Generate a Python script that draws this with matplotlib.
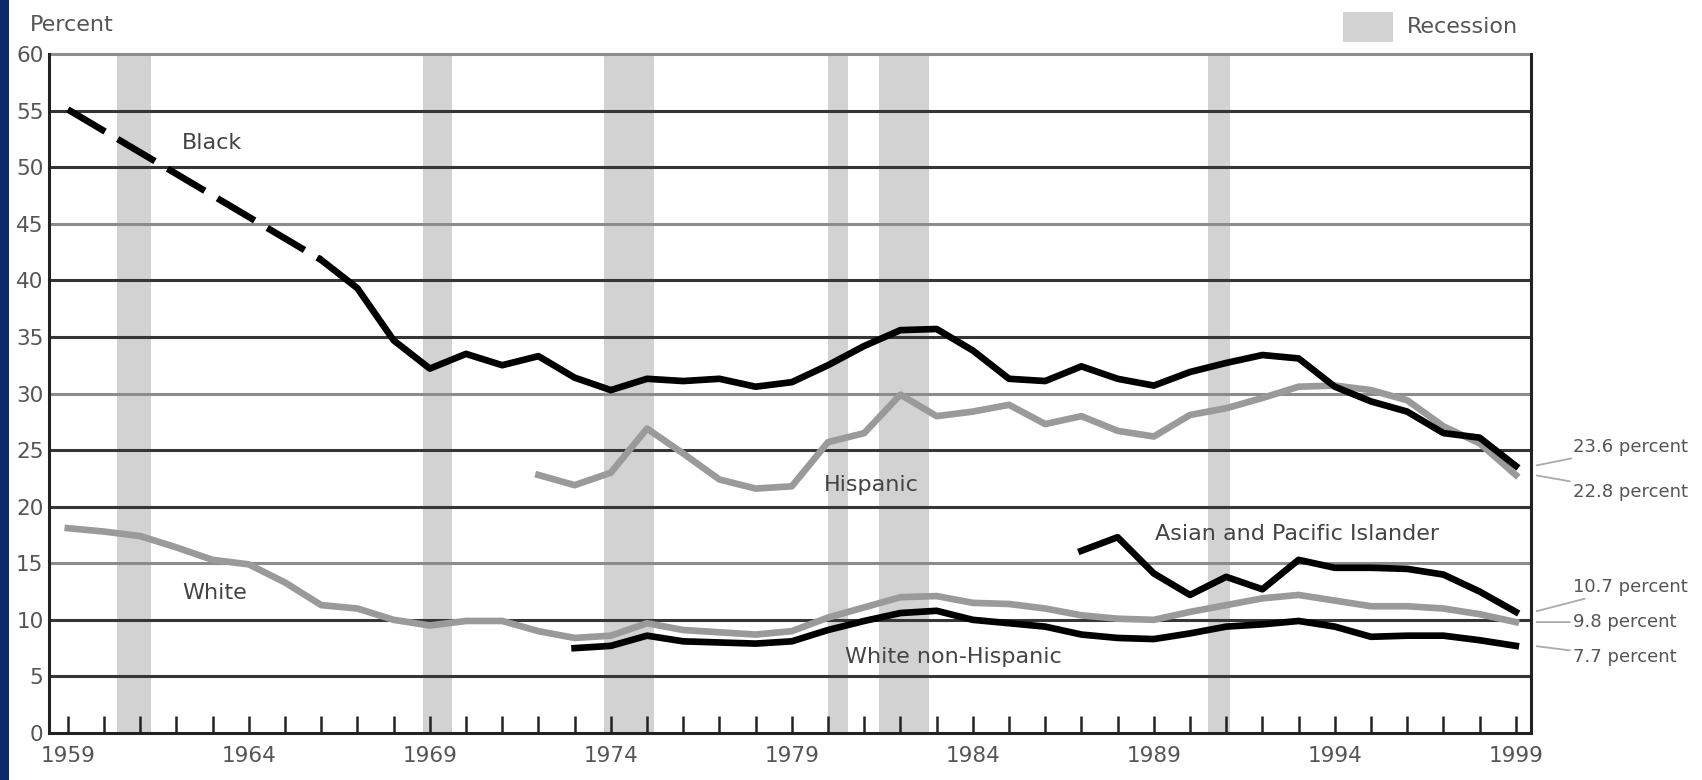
import matplotlib.pyplot as plt
from matplotlib.patches import Rectangle

# poverty rates by race, percent
black_est_years = [1959, 1966]
black_est = [55.1, 41.8]
black_years = list(range(1966, 2000))
black = [41.8, 39.3, 34.7, 32.2, 33.5, 32.5, 33.3, 31.4, 30.3, 31.3, 31.1, 31.3,
         30.6, 31.0, 32.5, 34.2, 35.6, 35.7, 33.8, 31.3, 31.1, 32.4, 31.3, 30.7,
         31.9, 32.7, 33.4, 33.1, 30.6, 29.3, 28.4, 26.5, 26.1, 23.6]
white_years = list(range(1959, 2000))
white = [18.1, 17.8, 17.4, 16.4, 15.3, 14.9, 13.3, 11.3, 11.0, 10.0, 9.5, 9.9,
         9.9, 9.0, 8.4, 8.6, 9.7, 9.1, 8.9, 8.7, 9.0, 10.2, 11.1, 12.0, 12.1,
         11.5, 11.4, 11.0, 10.4, 10.1, 10.0, 10.7, 11.3, 11.9, 12.2, 11.7, 11.2,
         11.2, 11.0, 10.5, 9.8]
hisp_years = list(range(1972, 2000))
hispanic = [22.8, 21.9, 23.0, 26.9, 24.7, 22.4, 21.6, 21.8, 25.7, 26.5, 29.9,
            28.0, 28.4, 29.0, 27.3, 28.0, 26.7, 26.2, 28.1, 28.7, 29.6, 30.6,
            30.7, 30.3, 29.4, 27.1, 25.6, 22.8]
wnh_years = list(range(1973, 2000))
white_nonhisp = [7.5, 7.7, 8.6, 8.1, 8.0, 7.9, 8.1, 9.1, 9.9, 10.6, 10.8, 10.0,
                 9.7, 9.4, 8.7, 8.4, 8.3, 8.8, 9.4, 9.6, 9.9, 9.4, 8.5, 8.6,
                 8.6, 8.2, 7.7]
asian_years = list(range(1987, 2000))
asian = [16.1, 17.3, 14.1, 12.2, 13.8, 12.7, 15.3, 14.6, 14.6, 14.5, 14.0, 12.5, 10.7]

recessions = [(1960.35, 1961.3), (1968.8, 1969.6), (1973.8, 1975.2),
              (1980.0, 1980.55), (1981.4, 1982.8), (1990.5, 1991.1)]

end_labels = ['23.6 percent', '22.8 percent', '10.7 percent', '9.8 percent', '7.7 percent']
end_values = [23.6, 22.8, 10.7, 9.8, 7.7]
end_label_y = [25.3, 21.3, 12.9, 9.8, 6.7]

plt.rcParams['font.family'] = ['DejaVu Sans']

txt = '#555555'
fig = plt.figure(figsize=(17.02, 7.8), dpi=100)
ax = fig.add_axes([49/1702, 47/780, (1531-49)/1702, (733-54)/780])
ax.set_xlim(1958.48, 1999.42)
ax.set_ylim(0, 60)

for a, b in recessions:
    ax.axvspan(a, b, color='#d2d2d2', lw=0, zorder=1)

for v in range(5, 61, 5):
    c = '#8c8c8c' if v % 15 == 0 else '#363636'
    ax.axhline(v, color=c, lw=2.2, zorder=1.5, clip_on=False)

lw = 4.8
ax.plot(white_years, white, color='#9a9a9a', lw=lw, zorder=3, solid_joinstyle='round')
ax.plot(hisp_years, hispanic, color='#9a9a9a', lw=lw, zorder=3, solid_joinstyle='round')
ax.plot(black_est_years, black_est, color='black', lw=lw, ls=(0, (6.5, 2.2)), zorder=4)
ax.plot(black_years, black, color='black', lw=lw, zorder=4, solid_joinstyle='round')
ax.plot(wnh_years, white_nonhisp, color='black', lw=lw, zorder=4, solid_joinstyle='round')
ax.plot(asian_years, asian, color='black', lw=lw, zorder=4, solid_joinstyle='round')

lab = dict(color='#444444', fontsize=16, ha='center', va='center', zorder=5)
ax.text(1962.98, 52.1, 'Black', **lab)
ax.text(1981.2, 21.9, 'Hispanic', **lab)
ax.text(1963.06, 12.4, 'White', **lab)
ax.text(1992.95, 17.6, 'Asian and Pacific Islander', **lab)
ax.text(1983.45, 6.7, 'White non-Hispanic', **lab)

for s, v, ty in zip(end_labels, end_values, end_label_y):
    ax.annotate(s, xy=(1999.5, v), xytext=(2000.57, ty), fontsize=13,
                color=txt, va='center', ha='left', annotation_clip=False,
                arrowprops=dict(arrowstyle='-', color='#aaaaaa', lw=1.3,
                                shrinkA=0, shrinkB=2))

ax.set_xticks(range(1959, 2000, 5))
ax.set_xticks(range(1959, 2000), minor=True)
ax.tick_params(axis='x', which='both', direction='in', length=12, width=1.8,
               color='#222222', labelsize=15.5, labelcolor=txt, pad=9)
ax.set_yticks(range(0, 61, 5))
ax.tick_params(axis='y', length=0, labelsize=15.5, labelcolor=txt, pad=4)

ax.spines['top'].set_visible(False)
for side in ['left', 'right', 'bottom']:
    ax.spines[side].set_color('#222222')
    ax.spines[side].set_linewidth(2.2)

fig.text(30/1702, 1 - 25/780, 'Percent', fontsize=16, color=txt, va='center', ha='left')
fig.patches.append(Rectangle((1343/1702, 1 - 42/780), 50/1702, 30/780,
                             transform=fig.transFigure, color='#d2d2d2', lw=0))
fig.text(1407/1702, 1 - 27/780, 'Recession', fontsize=16, color=txt, va='center', ha='left')
fig.patches.append(Rectangle((0, 0), 9/1702, 1, transform=fig.transFigure,
                             color='#0b2a6e', lw=0))

fig.savefig('out.png', dpi=100, facecolor='white')
